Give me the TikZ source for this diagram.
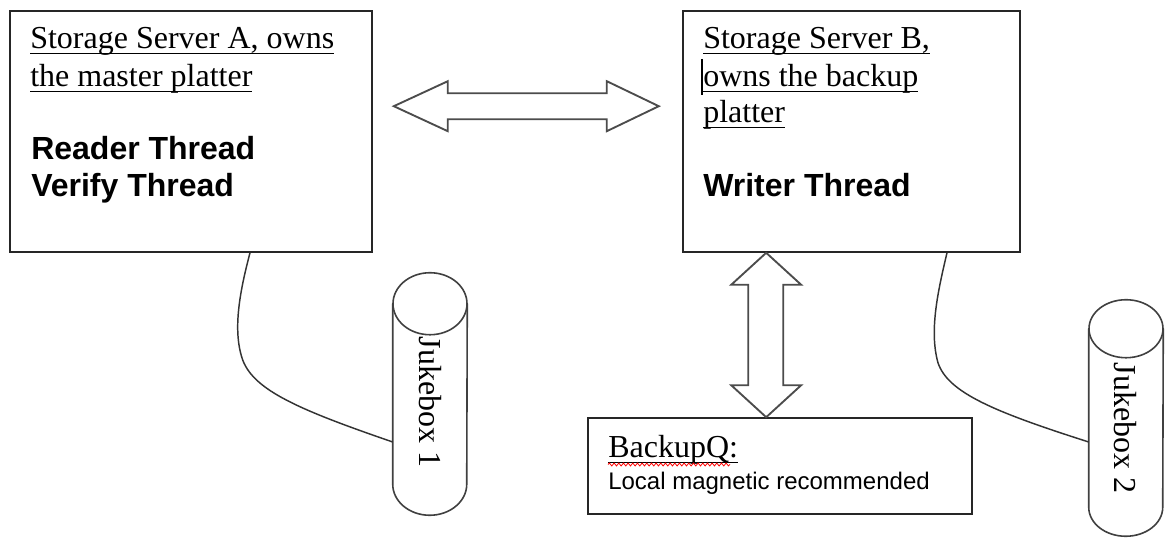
\documentclass[tikz,border=0pt]{standalone}
\usepackage{fontspec}
\setmainfont{Liberation Serif}
\newfontfamily\sansfam{Liberation Sans}
\usetikzlibrary{calc,decorations.pathmorphing}

% underline at a fixed depth, so descenders cross it
\newsavebox\ulbox
\newcommand\ulined[1]{\sbox\ulbox{#1}\rlap{\rule[-4pt]{\wd\ulbox}{1.1pt}}\usebox\ulbox}

\begin{document}
\begin{tikzpicture}[x=0.75pt,y=-0.75pt,
  frame/.style={draw=black!85, line width=1.2pt, rectangle, inner sep=0pt},
  serif/.style={font=\fontsize{24}{28}\selectfont, inner sep=0pt, anchor=base west},
  heavy/.style={font=\sansfam\bfseries\fontsize{24}{28}\selectfont, inner sep=0pt, anchor=base west},
  small/.style={font=\sansfam\fontsize{18}{21}\selectfont, inner sep=0pt, anchor=base west},
  blockarrow/.style={draw=black!70, line width=1.4pt, fill=white, line join=miter},
  link/.style={draw=black!80, line width=1.1pt},
  drum/.style={draw=black!75, line width=1.2pt},
  slot/.style={rectangle, draw=none, inner sep=0pt}
]
\fill[white] (0,0) rectangle (1165,538);
\useasboundingbox (0,0) rectangle (1165,538);

% server and queue boxes
\node[frame, minimum width=271.5pt, minimum height=180.75pt] (srvA) at (191,131.5) {};
\node[frame, minimum width=252.75pt, minimum height=180.75pt] (srvB) at (851.5,131.5) {};
\node[frame, minimum width=288pt, minimum height=72pt] (queue) at (780,466) {};

% server A text
\node[serif] (srvAt1) at (30,49) {\ulined{Storage Server A, owns}};
\node[serif] (srvAt2) at (30,87) {\ulined{the master platter}};
\node[heavy] (srvAt3) at (31,160) {Reader Thread};
\node[heavy] (srvAt4) at (31,197) {Verify Thread};

% server B text
\node[serif] (srvBt1) at (703,49) {\ulined{Storage Server B,}};
\node[serif] (srvBt2) at (703,87) {\ulined{owns the backup}};
\node[serif] (srvBt3) at (703,123) {\ulined{platter}};
\node[heavy] (srvBt4) at (703,197) {Writer Thread};
\draw[line width=1.6pt] ($(srvBt2.base west)+(-1,-28)$) -- ++(0,36);

% queue text
\node[serif] (qt1) at (608,458) {\ulined{BackupQ:}};
\draw[red, line width=0.6pt, decorate, decoration={snake, amplitude=1.1pt, segment length=3.5pt}]
  ($(qt1.base west)+(0,6.5)$) -- ++(122,0);
\node[small] (qt2) at (608,489) {Local magnetic recommended};

% jukebox drums
\node[slot, minimum width=55.5pt, minimum height=181.5pt] (jb1) at (430,394) {};
\node[slot, minimum width=55.5pt, minimum height=177pt] (jb2) at (1126,418) {};

\draw[drum] ($(jb1.north)+(0,31)$) ellipse [x radius=37, y radius=31];
\draw[drum] ($(jb1.north west)+(0,31)$) -- ($(jb1.south west)+(0,-31)$)
  arc[start angle=180, end angle=0, x radius=37, y radius=31] -- ($(jb1.north east)+(0,31)$);
\draw[drum] ($(jb2.north)+(0,29)$) ellipse [x radius=37, y radius=29];
\draw[drum] ($(jb2.north west)+(0,29)$) -- ($(jb2.south west)+(0,-29)$)
  arc[start angle=180, end angle=0, x radius=37, y radius=29] -- ($(jb2.north east)+(0,29)$);

\node[serif, anchor=center, rotate=-90] (jb1t) at (430,402) {Jukebox 1};
\node[serif, anchor=center, rotate=-90] (jb2t) at (1125,428) {Jukebox 2};

% block arrow between the servers
\coordinate (hl) at ($(srvA.north east)+(21,96)$);
\draw[blockarrow] (hl) -- ++(54,-25) -- ++(0,12) -- ++(159,0) -- ++(0,-12) -- ++(52,25)
  -- ++(-52,25) -- ++(0,-12) -- ++(-159,0) -- ++(0,12) -- cycle;

% block arrow between server B and the queue
\coordinate (vt) at ($(srvB.south west)+(84,0)$);
\coordinate (vb) at (vt |- queue.north);
\draw[blockarrow] (vt) -- ++(35,32) -- ++(-18,0) -- ($(vb)+(17,-32)$) -- ++(18,0) -- (vb)
  -- ++(-35,-32) -- ++(17,0) -- ($(vt)+(-18,32)$) -- ++(-17,0) -- cycle;

% cables to the jukeboxes
\coordinate (a0) at ($(srvA.south)+(59,0)$);
\coordinate (a1) at ($(jb1.west)+(0,48)$);
\draw[link] (a0) .. controls ($(a0)+(-10,38)$) and ($(a0)+(-18,78)$) .. ($(a0)+(-7,108)$)
  .. controls ($(a0)+(5,138)$) and ($(a1)+(-93,-32)$) .. (a1);

\coordinate (b0) at ($(srvB.south)+(95.5,0)$);
\coordinate (b1) at ($(jb2.west)+(0,24)$);
\draw[link] (b0) .. controls ($(b0)+(-9,38)$) and ($(b0)+(-18,78)$) .. ($(b0)+(-9,110)$)
  .. controls ($(b0)+(1,140)$) and ($(b1)+(-94,-30)$) .. (b1);
\end{tikzpicture}
\end{document}
